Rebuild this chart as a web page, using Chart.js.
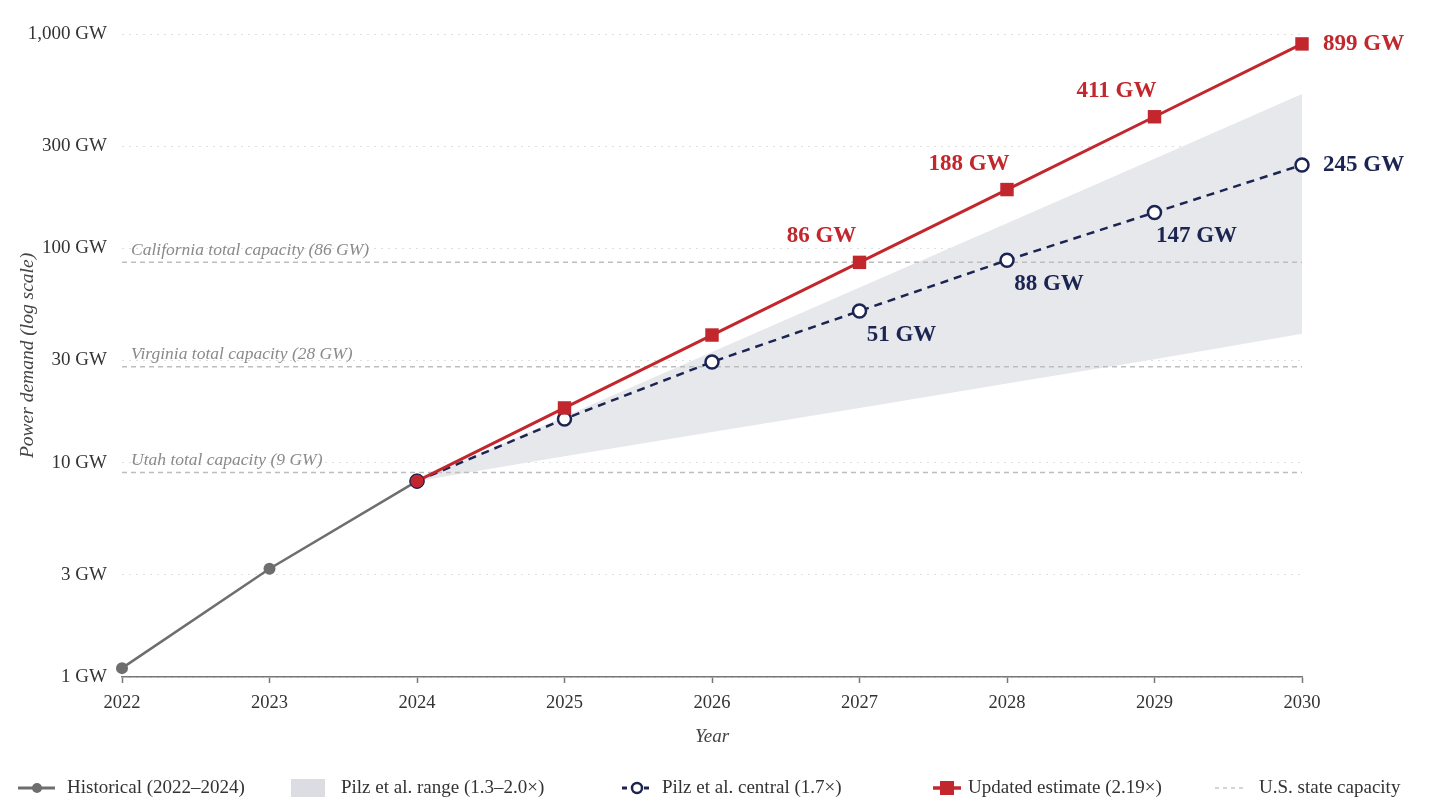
<!DOCTYPE html>
<html>
<head>
<meta charset="utf-8">
<script src="https://cdn.jsdelivr.net/npm/chart.js@4.4.1/dist/chart.umd.min.js"></script>
<style>
  html, body { margin: 0; padding: 0; background: #fff; }
</style>
</head>
<body>
<canvas id="chart" width="1430" height="809"></canvas>
<script>
// data (GW)
const histYears = [2022, 2023, 2024]
const historical = [1.1, 3.2, 8.2]
const projYears = [2024, 2025, 2026, 2027, 2028, 2029, 2030]
const updated = [8.2, 18, 39.4, 86, 188, 411, 899]
const central = [8.2, 16, 29.5, 51, 88, 147, 245]
const rangeLow = [8.2, 10.7, 13.9, 18.0, 23.4, 30.4, 40]
const rangeHigh = [8.2, 16.4, 32.8, 65.6, 131, 262, 525]
const yTicks = [1, 3, 10, 30, 100, 300, 1000]
const stateNames = ['Utah', 'Virginia', 'California']
const stateCapacity = [9, 28, 86]

const SERIF = "'Liberation Serif', 'DejaVu Serif', serif"
const RED = '#c1272d'
const NAVY = '#1c2552'
const GRAY = '#6e6e6e'
const BAND = '#e7e8ec'
const REF = '#bdbdbd'

function pts(xs, ys) {
  return xs.map((x, i) => ({ x: x, y: ys[i] }))
}

const refSets = stateCapacity.map((v, i) => ({
  label: stateNames[i],
  data: [{ x: 2022, y: v }, { x: 2030, y: v }],
  borderColor: REF,
  borderWidth: 1.5,
  borderDash: [5, 4],
  pointRadius: 0,
  fill: false,
  order: 3
}))

const labelPlugin = {
  id: 'labels',
  afterDatasetsDraw(chart) {
    const ctx = chart.ctx
    const xs = chart.scales.x, ys = chart.scales.y
    ctx.save()
    // state capacity notes
    ctx.font = 'italic 17.5px ' + SERIF
    ctx.fillStyle = '#8a8a8a'
    ctx.textAlign = 'left'
    ctx.textBaseline = 'middle'
    stateCapacity.forEach((v, i) => {
      const y = ys.getPixelForValue(v)
      ctx.fillText(stateNames[i] + ' total capacity (' + v + ' GW)', xs.left + 9, y - 12)
    })
    // value labels
    ctx.font = 'bold 23px ' + SERIF
    const last = projYears.length - 1
    for (let i = 3; i <= last; i++) {
      const px = xs.getPixelForValue(projYears[i])
      let py = ys.getPixelForValue(updated[i])
      ctx.fillStyle = RED
      if (i === last) {
        ctx.textAlign = 'left'
        ctx.fillText(Math.round(updated[i]) + ' GW', px + 21, py)
      } else {
        ctx.textAlign = 'center'
        ctx.fillText(Math.round(updated[i]) + ' GW', px - 38, py - 26)
      }
      py = ys.getPixelForValue(central[i])
      ctx.fillStyle = NAVY
      if (i === last) {
        ctx.textAlign = 'left'
        ctx.fillText(Math.round(central[i]) + ' GW', px + 21, py)
      } else {
        ctx.textAlign = 'center'
        ctx.fillText(Math.round(central[i]) + ' GW', px + 42, py + 24)
      }
    }
    ctx.restore()
  },
  afterDraw(chart) {
    // legend row along the bottom
    const ctx = chart.ctx
    const y = 788
    ctx.save()
    ctx.font = '19px ' + SERIF
    ctx.fillStyle = '#333'
    ctx.textAlign = 'left'
    ctx.textBaseline = 'middle'

    ctx.strokeStyle = GRAY; ctx.lineWidth = 3
    ctx.beginPath(); ctx.moveTo(18, y); ctx.lineTo(55, y); ctx.stroke()
    ctx.fillStyle = GRAY
    ctx.beginPath(); ctx.arc(37, y, 5, 0, Math.PI * 2); ctx.fill()
    ctx.fillStyle = '#333'
    ctx.fillText('Historical (2022\u20132024)', 67, y)

    ctx.fillStyle = '#dcdde3'
    ctx.fillRect(291, y - 9, 34, 18)
    ctx.fillStyle = '#333'
    ctx.fillText('Pilz et al. range (1.3\u20132.0\u00d7)', 341, y)

    ctx.strokeStyle = NAVY; ctx.lineWidth = 3
    ctx.setLineDash([5, 6])
    ctx.beginPath(); ctx.moveTo(622, y); ctx.lineTo(652, y); ctx.stroke()
    ctx.setLineDash([])
    ctx.fillStyle = '#fff'; ctx.lineWidth = 2.5
    ctx.beginPath(); ctx.arc(637, y, 5, 0, Math.PI * 2); ctx.fill(); ctx.stroke()
    ctx.fillStyle = '#333'
    ctx.fillText('Pilz et al. central (1.7\u00d7)', 662, y)

    ctx.strokeStyle = RED; ctx.lineWidth = 3.5
    ctx.beginPath(); ctx.moveTo(933, y); ctx.lineTo(961, y); ctx.stroke()
    ctx.fillStyle = RED
    ctx.fillRect(940, y - 7, 14, 14)
    ctx.fillStyle = '#333'
    ctx.fillText('Updated estimate (2.19\u00d7)', 968, y)

    ctx.strokeStyle = '#c8c8c8'; ctx.lineWidth = 1.5
    ctx.setLineDash([4, 4])
    ctx.beginPath(); ctx.moveTo(1215, y); ctx.lineTo(1247, y); ctx.stroke()
    ctx.setLineDash([])
    ctx.fillText('U.S. state capacity', 1259, y)
    ctx.restore()
  }
}

Chart.defaults.font.family = SERIF

new Chart(document.getElementById('chart'), {
  type: 'line',
  data: {
    datasets: [
      {
        label: 'Updated estimate (2.19\u00d7)',
        data: pts(projYears, updated),
        borderColor: RED,
        backgroundColor: RED,
        borderWidth: 3,
        pointStyle: projYears.map((y, i) => i === 0 ? 'circle' : 'rect'),
        pointRadius: projYears.map((y, i) => i === 0 ? 7 : 9.5),
        pointBorderWidth: projYears.map((y, i) => i === 0 ? 1 : 0),
        pointBorderColor: NAVY,
        fill: false,
        clip: false,
        order: 0
      },
      {
        label: 'Pilz et al. central (1.7\u00d7)',
        data: pts(projYears, central),
        borderColor: NAVY,
        backgroundColor: '#fff',
        borderWidth: 2.5,
        borderDash: [8, 6],
        pointRadius: 6.5,
        pointBorderWidth: 2.5,
        pointBackgroundColor: '#fff',
        pointBorderColor: NAVY,
        fill: false,
        clip: false,
        order: 1
      },
      {
        label: 'Historical (2022\u20132024)',
        data: pts(histYears, historical),
        borderColor: GRAY,
        backgroundColor: GRAY,
        borderWidth: 2.5,
        pointRadius: 6,
        pointBorderWidth: 0,
        fill: false,
        clip: false,
        order: 2
      },
      ...refSets,
      {
        label: 'range low',
        data: pts(projYears, rangeLow),
        borderWidth: 0,
        pointRadius: 0,
        fill: false,
        order: 5
      },
      {
        label: 'Pilz et al. range (1.3\u20132.0\u00d7)',
        data: pts(projYears, rangeHigh),
        borderWidth: 0,
        pointRadius: 0,
        backgroundColor: BAND,
        fill: 6,
        order: 4
      }
    ]
  },
  options: {
    responsive: false,
    animation: false,
    layout: { padding: { top: 34, right: 128, bottom: 57, left: 0 } },
    plugins: {
      legend: { display: false },
      tooltip: { enabled: false },
      filler: { drawTime: 'beforeDatasetsDraw' }
    },
    scales: {
      x: {
        type: 'linear',
        min: 2022,
        max: 2030,
        afterBuildTicks: (s) => { s.ticks = histYears.concat(projYears.slice(1)).map(v => ({ value: v })) },
        afterFit: (s) => { s.height = 75 },
        ticks: {
          color: '#333',
          font: { size: 18.5 },
          padding: 9,
          callback: (v) => String(v)
        },
        grid: { drawOnChartArea: false, drawTicks: true, tickLength: 6, tickColor: '#777', tickWidth: 1.5 },
        border: { color: '#777', width: 1.5 },
        title: { display: true, text: 'Year', color: '#444', font: { size: 19, style: 'italic' }, padding: { top: 12 } }
      },
      y: {
        type: 'logarithmic',
        min: 1,
        max: 1000,
        afterBuildTicks: (s) => { s.ticks = yTicks.map(v => ({ value: v })) },
        afterFit: (s) => { s.width = 122 },
        ticks: {
          color: '#333',
          font: { size: 19 },
          padding: 15,
          callback: (v) => v.toLocaleString('en-US') + ' GW'
        },
        grid: { color: '#dedede', lineWidth: 1, drawTicks: false },
        border: { display: false, dash: [2, 5] },
        title: { display: true, text: 'Power demand (log scale)', color: '#444', font: { size: 19.5, style: 'italic' }, padding: { top: 16, bottom: 0 } }
      }
    }
  },
  plugins: [labelPlugin]
})
</script>
</body>
</html>
